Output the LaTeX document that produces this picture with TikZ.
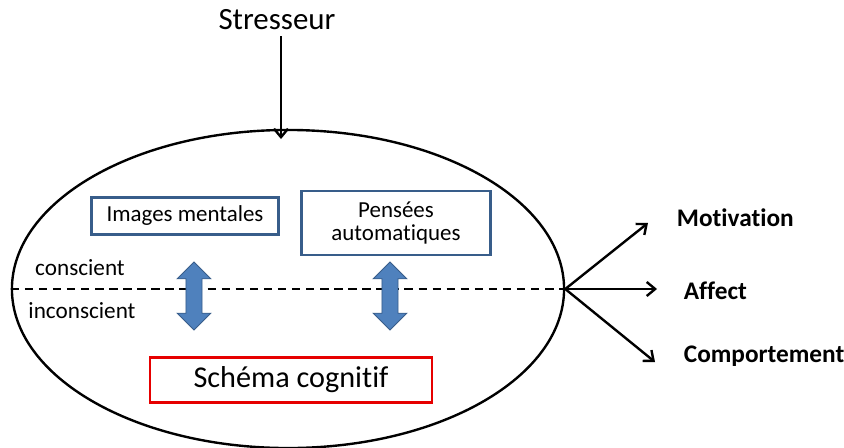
\documentclass[tikz,border=0pt]{standalone}
\usepackage{fontspec}
\setmainfont[Ligatures=NoCommon]{Carlito}
\usetikzlibrary{shapes.geometric,shapes.arrows,arrows.meta}
\definecolor{boxblue}{RGB}{56,93,138}
\definecolor{arrowblue}{RGB}{79,129,189}
\definecolor{boxred}{RGB}{230,0,0}
\tikzset{
  mental/.style={draw=boxblue,line width=1.5pt,inner sep=0pt,align=center,font=\fontsize{16.3}{17}\selectfont},
  link/.style={double arrow,fill=arrowblue,draw=boxblue,line width=0.6pt,rotate=90,
    minimum height=1.7cm,inner sep=0.19cm,double arrow head extend=0.22cm},
  result/.style={anchor=west,font=\fontsize{18}{20}\selectfont\bfseries},
}
\begin{document}
\begin{tikzpicture}[x=0.025cm,y=-0.025cm,>={Straight Barb[length=6pt,width=10pt]},line width=1.7pt]
\useasboundingbox (0,0) rectangle (844,448);
\node[ellipse,draw,minimum width=13.8cm,minimum height=7.95cm,inner sep=0pt] (ell) at (288,289) {};
\node[font=\fontsize{22}{24}\selectfont] (stress) at (277,20) {Stresseur};
\draw[->] (stress.south) ++(4,0) coordinate (s0) -- (s0 |- 0,139);
\node[mental,minimum width=4.675cm,minimum height=0.925cm] (images) at (185,216) {Images mentales};
\node[mental,minimum width=4.725cm,minimum height=1.6cm] (pensees) at (396,223) {Pensées\\automatiques};
\node[mental,draw=boxred,minimum width=7.05cm,minimum height=1.125cm,font=\fontsize{21.5}{23}\selectfont] (schema) at (291,380) {Schéma cognitif};
\draw[dashed,dash pattern=on 6pt off 4pt] (ell.west) -- (ell.east);
\node[font=\fontsize{16.5}{18}\selectfont] (cons) at (80,268) {conscient};
\node[font=\fontsize{16.5}{18}\selectfont] (incons) at (82,311) {inconscient};
\foreach \x in {194,390} {
    \node[link] at (\x,296) {};
}
\node[result] (motiv) at (671,218) {Motivation};
\node[result] (affect) at (678,291) {Affect};
\node[result] (comport) at (678,356) {Comportement};
\draw[->] (ell.east) -- (648,223);
\draw[->] (ell.east) -- (ell.east -| 657,0);
\draw[->] (ell.east) -- (655,362);
\end{tikzpicture}
\end{document}
